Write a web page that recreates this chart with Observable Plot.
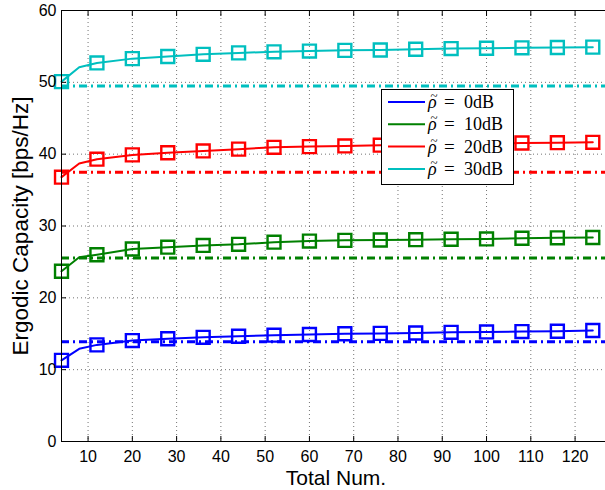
<!DOCTYPE html>
<html>
<head>
<meta charset="utf-8">
<script src="https://cdn.jsdelivr.net/npm/d3@7"></script>
<script src="https://cdn.jsdelivr.net/npm/@observablehq/plot@0.6"></script>
<style>
  html, body { margin: 0; padding: 0; overflow: hidden; background: #fff; }
  #wrap { position: relative; width: 605px; height: 490px; overflow: hidden; }
  #wrap svg { max-width: none !important; }
  #legend { position: absolute; left: 0; top: 0; pointer-events: none; }
</style>
</head>
<body>
<div id="wrap"></div>
<script>
// Number of elements at which each curve is marked
const totalNum = [4, 12, 20, 28, 36, 44, 52, 60, 68, 76, 84, 92, 100, 108, 116, 124];

// Ergodic capacity (bps/Hz) at each marked point, one array per SNR
const cap0dB  = [11.3, 13.45, 14.05, 14.3, 14.5, 14.65, 14.8, 14.9, 15.0, 15.05, 15.1, 15.2, 15.25, 15.3, 15.35, 15.45];
const cap10dB = [23.7, 26.0, 26.8, 27.05, 27.3, 27.45, 27.75, 27.9, 28.0, 28.05, 28.1, 28.15, 28.2, 28.3, 28.35, 28.4];
const cap20dB = [36.8, 39.3, 39.9, 40.2, 40.45, 40.7, 40.95, 41.05, 41.15, 41.25, 41.35, 41.45, 41.5, 41.55, 41.6, 41.65];
const cap30dB = [50.1, 52.7, 53.3, 53.6, 53.9, 54.1, 54.25, 54.35, 54.45, 54.5, 54.6, 54.7, 54.75, 54.8, 54.85, 54.9];

// Extra curve sample between the first two markers
const kneeNum = 8;
const kneeCap = [12.9, 25.65, 38.7, 52.1];

// Reference level for each SNR (dash-dot lines)
const refCap = [13.9, 25.55, 37.5, 49.5];

const snrLabels = ["0dB", "10dB", "20dB", "30dB"];
const colors = ["#0000ff", "#008000", "#ff0000", "#00bfbf"];

const xTicks = [10, 20, 30, 40, 50, 60, 70, 80, 90, 100, 110, 120];
const yTicks = [0, 10, 20, 30, 40, 50, 60];

const seriesCaps = [cap0dB, cap10dB, cap20dB, cap30dB];

const markers = seriesCaps.flatMap((caps, s) =>
  caps.map((c, i) => ({snr: snrLabels[s], n: totalNum[i], cap: c})));
const curves = seriesCaps.flatMap((caps, s) => {
  const pts = caps.map((c, i) => ({snr: snrLabels[s], n: totalNum[i], cap: c}));
  pts.push({snr: snrLabels[s], n: kneeNum, cap: kneeCap[s]});
  return pts.sort((a, b) => a.n - b.n);
});
const refs = refCap.map((c, s) => ({snr: snrLabels[s], cap: c}));

const font = "Liberation Sans, Arial, Helvetica, sans-serif";

const chart = Plot.plot({
  width: 610,
  height: 490,
  marginLeft: 61,
  marginRight: 0,
  marginTop: 10,
  marginBottom: 49,
  style: {fontFamily: font, color: "#000", background: "#fff", maxWidth: "none"},
  x: {domain: [4, 128]},
  y: {domain: [0, 60]},
  color: {domain: snrLabels, range: colors},
  marks: [
    Plot.gridX(xTicks, {stroke: "#000", strokeOpacity: 0.55, strokeDasharray: "1,3"}),
    Plot.gridY(yTicks.slice(1, -1), {stroke: "#000", strokeOpacity: 0.55, strokeDasharray: "1,3"}),
    Plot.line(curves, {x: "n", y: "cap", z: "snr", stroke: "snr", strokeWidth: 2}),
    Plot.dot(markers, {x: "n", y: "cap", stroke: "snr", symbol: "square", r: 7.3, strokeWidth: 2.4, fill: "none"}),
    Plot.ruleY(refs, {y: "cap", stroke: "snr", strokeWidth: 3, strokeDasharray: "8,4,2,4"}),
    Plot.frame({stroke: "#000", strokeWidth: 1}),
    Plot.axisX(xTicks, {anchor: "bottom", tickSize: 0, tickPadding: 9, fontSize: 16, label: null}),
    Plot.axisX(xTicks, {anchor: "bottom", tickSize: -5, tickFormat: () => "", label: null}),
    Plot.axisX(xTicks, {anchor: "top", tickSize: -5, tickFormat: () => "", label: null}),
    Plot.axisY(yTicks, {anchor: "left", tickSize: 0, tickPadding: 5, fontSize: 16, label: null}),
    Plot.axisY(yTicks, {anchor: "left", tickSize: -5, tickFormat: () => "", label: null}),
    Plot.text(["Ergodic Capacity [bps/Hz]"], {frameAnchor: "left", rotate: -90, dx: -41, fontSize: 22.5, lineAnchor: "middle", textAnchor: "middle"}),
    Plot.text(["Total Num."], {frameAnchor: "bottom", dy: 37, fontSize: 21, lineAnchor: "middle"})
  ]
});

const wrap = document.getElementById("wrap");
wrap.appendChild(chart);

// Legend box drawn on top of the plot area
const leg = d3.select(wrap).append("svg")
  .attr("id", "legend").attr("width", 605).attr("height", 490)
  .style("font-family", "'Liberation Serif', 'DejaVu Serif', serif");
leg.append("rect")
  .attr("x", 381.5).attr("y", 89.5).attr("width", 132).attr("height", 95)
  .attr("fill", "#fff").attr("stroke", "#000").attr("stroke-width", 1);
snrLabels.forEach((lab, i) => {
  const yc = 102 + i * 22.3;
  const g = leg.append("g");
  g.append("line").attr("x1", 388).attr("x2", 425).attr("y1", yc).attr("y2", yc)
    .attr("stroke", colors[i]).attr("stroke-width", 2);
  // one text element per entry: italic rho with a tilde accent, then "= value"
  const t = g.append("text").attr("y", yc + 6).attr("font-size", 18);
  t.append("tspan").attr("x", 428).attr("font-style", "italic").text("ρ");
  t.append("tspan").attr("x", 434).attr("dy", -8).attr("font-size", 13)
    .attr("text-anchor", "middle").text("~");
  t.append("tspan").attr("x", 444).attr("dy", 8).attr("font-size", 19).text("=");
  t.append("tspan").attr("x", 464).text(lab);
});
</script>
</body>
</html>
